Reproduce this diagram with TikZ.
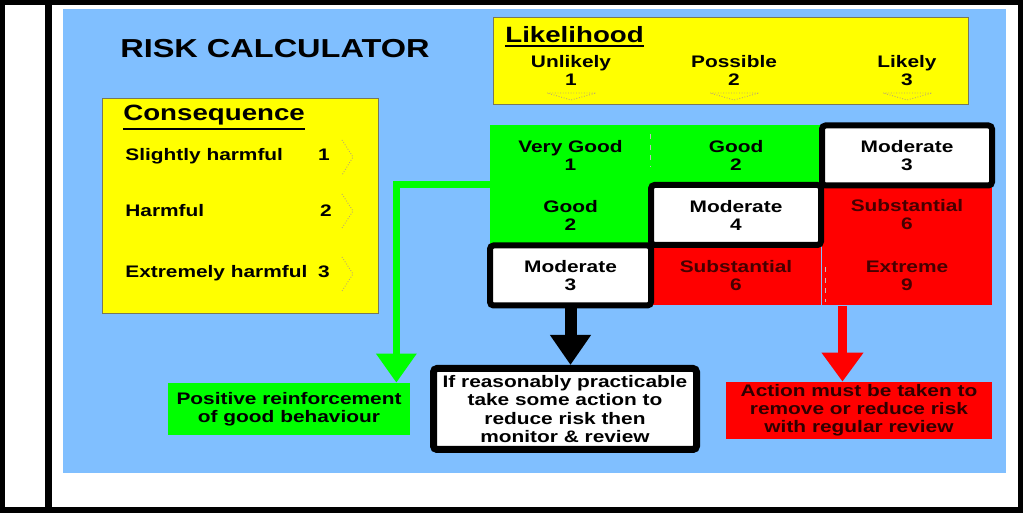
\documentclass[tikz,border=0pt]{standalone}
\usepackage{fontspec}
\setmainfont{Liberation Sans}[FakeStretch=1.25]
\usepackage{tikz}
\usetikzlibrary{arrows.meta}
\definecolor{white}{rgb}{1.0, 1.0, 1.0}
\definecolor{black}{rgb}{0.0, 0.0, 0.0}
\definecolor{skyblue}{RGB}{128,191,255}
\definecolor{lyellow}{RGB}{255,255,0}
\definecolor{lgreen}{RGB}{0,255,0}
\definecolor{lred}{RGB}{255,0,0}
\definecolor{darkred}{RGB}{70,0,0}
\definecolor{boxedge}{RGB}{120,120,90}
\definecolor{chevgray}{RGB}{185,165,115}
\pgfdeclarelayer{bglayer}
\pgfdeclarelayer{edgelayer}
\pgfdeclarelayer{nodelayer}
\pgfsetlayers{bglayer,edgelayer,nodelayer,main}
\newcommand{\headline}[1]{\vtop{\hbox{#1}\kern1.2pt\hrule height 1.1pt}}
\tikzstyle{txt}=[inner sep=0pt,font=\bfseries\fontsize{9.5}{10.2}\selectfont]
\tikzstyle{head}=[inner sep=0pt,font=\bfseries\fontsize{12.6}{14}\selectfont]
\tikzstyle{panel}=[fill=lyellow,draw=boxedge,line width=0.4pt,inner sep=0pt]
\tikzstyle{cell}=[minimum width=3.4cm,minimum height=1.2cm,inner sep=0pt,align=center,font=\bfseries\fontsize{9.5}{10.2}\selectfont]
\tikzstyle{goodcell}=[cell,fill=lgreen]
\tikzstyle{badcell}=[cell,fill=lred,text=darkred]
\tikzstyle{modcell}=[cell,fill=white,draw=black,line width=0.12cm,rounded corners=2pt]
\tikzstyle{action}=[align=center,inner sep=0pt,font=\bfseries\fontsize{9.5}{10.3}\selectfont]
\tikzstyle{chev}=[draw=chevgray,line width=0.5pt,densely dotted]

\begin{document}
\begin{tikzpicture}
        \useasboundingbox (0,0) rectangle (20.46,-10.26);

        \begin{pgfonlayer}{bglayer}
            \fill [skyblue] (1.26,-0.18) rectangle (20.12,-9.46);
            \draw [line width=0.11cm] (0.055,-0.055) rectangle (20.405,-10.205);
            \draw [line width=0.13cm] (0.97,-0.05) -- (0.97,-10.21);
        \end{pgfonlayer}

        \begin{pgfonlayer}{nodelayer}
            \node [inner sep=0pt, font=\bfseries\fontsize{14.8}{16}\selectfont] (title) at (5.5, -0.98) {RISK CALCULATOR};

            \node [style = panel, minimum width=9.5cm, minimum height=1.74cm] (likbox) at (14.61, -1.21) {};
            \node [style = head, anchor=base west] (likttl) at (10.1, -0.86) {\headline{Likelihood}};
            \node [style = txt, align=center] (unlikely) at (11.42, -1.41) {Unlikely\\1};
            \node [style = txt, align=center] (possible) at (14.68, -1.41) {Possible\\2};
            \node [style = txt, align=center] (likely) at (18.14, -1.41) {Likely\\3};

            \node [style = panel, minimum width=5.52cm, minimum height=4.3cm] (conbox) at (4.8, -4.11) {};
            \node [style = head, anchor=base west] (conttl) at (2.46, -2.42) {\headline{Consequence}};
            \node [style = txt, anchor=base west] (slight) at (2.5, -3.22) {Slightly harmful};
            \node [style = txt, anchor=base] (slightnum) at (6.48, -3.22) {1};
            \node [style = txt, anchor=base west] (harm) at (2.5, -4.34) {Harmful};
            \node [style = txt, anchor=base] (harmnum) at (6.52, -4.34) {2};
            \node [style = txt, anchor=base west] (extreme) at (2.5, -5.56) {Extremely harmful};
            \node [style = txt, anchor=base] (extremenum) at (6.48, -5.56) {3};

            \node [style = goodcell, minimum width=3.22cm] (c11) at (11.41, -3.11) {Very Good\\1};
            \node [style = goodcell] (c12) at (14.72, -3.11) {Good\\2};
            \node [style = goodcell, minimum width=3.22cm] (c21) at (11.41, -4.3) {Good\\2};
            \node [style = badcell] (c23) at (18.14, -4.3) {Substantial\\6};
            \node [style = badcell] (c32) at (14.72, -5.51) {Substantial\\6};
            \node [style = badcell] (c33) at (18.14, -5.51) {Extreme\\9};
            \node [style = modcell] (c13) at (18.14, -3.11) {Moderate\\3};
            \node [style = modcell] (c22) at (14.72, -4.3) {Moderate\\4};
            \node [style = modcell, minimum width=3.22cm] (c31) at (11.41, -5.51) {Moderate\\3};

            \node [style = action, fill=lgreen, minimum width=4.84cm, minimum height=1.04cm] (pos) at (5.78, -8.18) {Positive reinforcement\\of good behaviour};
            \node [style = action, fill=white, draw=black, line width=0.14cm, rounded corners=2pt, minimum width=5.26cm, minimum height=1.62cm] (act2) at (11.3, -8.18) {If reasonably practicable\\take some action to\\reduce risk then\\monitor \& review};
            \node [style = action, fill=lred, text={rgb,255:red,48;green,0;blue,0}, minimum width=5.32cm, minimum height=1.14cm] (act3) at (17.18, -8.21) {Action must be taken to\\remove or reduce risk\\with regular review};
        \end{pgfonlayer}

        \begin{pgfonlayer}{edgelayer}
            \draw [lgreen, line width=0.13cm, -{Triangle[width=0.78cm, length=0.58cm]}] (c21.north west) -| ([xshift=-0.28cm]pos.north east);
            \draw [black, line width=0.24cm, -{Triangle[width=0.78cm, length=0.6cm]}] (c31.south) -- (c31.south |- act2.north);
            \draw [lred, line width=0.18cm, -{Triangle[width=0.8cm, length=0.58cm]}] ([xshift=-0.33cm]act3.north |- c33.south) -- ([xshift=-0.33cm]act3.north);
        \end{pgfonlayer}

        \draw [black!25, line width=0.3pt, dashed] (13.0, -2.68) -- (13.0, -3.34);
        \draw [black!25, line width=0.3pt, dashed] (16.5, -5.34) -- (16.5, -6.04);

        \draw [style = chev] (10.94, -1.86) -- (11.92, -1.86) -- (11.42, -2.0) -- cycle;
        \draw [style = chev] (14.2, -1.86) -- (15.18, -1.86) -- (14.68, -2.0) -- cycle;
        \draw [style = chev] (17.66, -1.86) -- (18.64, -1.86) -- (18.14, -2.0) -- cycle;
        \draw [style = chev] (6.84, -2.8) -- (7.06, -3.14) -- (6.84, -3.5);
        \draw [style = chev] (6.84, -3.88) -- (7.06, -4.22) -- (6.84, -4.56);
        \draw [style = chev] (6.84, -5.14) -- (7.06, -5.48) -- (6.84, -5.82);
    \end{tikzpicture}
\end{document}
